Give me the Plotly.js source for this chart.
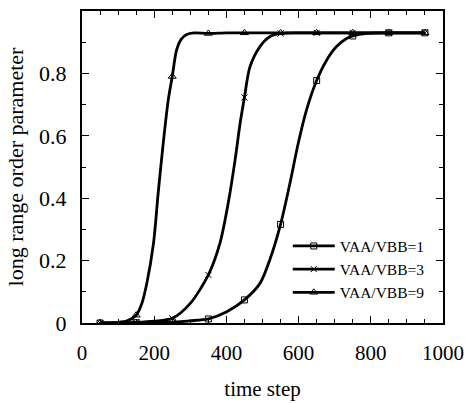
<!DOCTYPE html>
<html>
<head>
<meta charset="utf-8">
<script src="https://cdn.plot.ly/plotly-3.0.1.min.js"></script>
<style>html,body{margin:0;padding:0;background:#fff;}#chart{width:466px;height:403px;}</style>
</head>
<body>
<div id="chart"></div>
<script>
// Marker sample positions (time step)
var markerT = [50, 150, 250, 350, 450, 550, 650, 750, 850, 950];
// Marker values
var markerV1 = [0, 0.001, 0.003, 0.013, 0.074, 0.316, 0.777, 0.92, 0.93, 0.93];
var markerV3 = [0, 0.002, 0.015, 0.154, 0.723, 0.928, 0.93, 0.93, 0.93, 0.93];
var markerV9 = [0, 0.025, 0.79, 0.928, 0.93, 0.93, 0.93, 0.93, 0.93, 0.93];

// Intermediate curve points
var curveT1 = [100, 200, 300, 401, 493, 521, 576, 599, 622, 678, 705, 733, 790, 900];
var curveV1 = [0, 0.002, 0.007, 0.036, 0.127, 0.205, 0.448, 0.576, 0.683, 0.843, 0.886, 0.912, 0.928, 0.93];
var curveT3 = [100, 200, 300, 382, 405, 424, 438, 465, 493, 521, 600, 700, 800, 900];
var curveV3 = [0, 0.006, 0.063, 0.255, 0.384, 0.522, 0.64, 0.82, 0.886, 0.918, 0.93, 0.93, 0.93, 0.93];
var curveT9 = [100, 125, 165, 180, 198, 211, 225, 239, 262, 275, 290, 310, 400, 500, 600, 700, 800, 900];
var curveV9 = [0.002, 0.007, 0.06, 0.13, 0.255, 0.416, 0.576, 0.715, 0.875, 0.91, 0.925, 0.93, 0.93, 0.93, 0.93, 0.93, 0.93, 0.93];

var seriesNames = ['VAA/VBB=1', 'VAA/VBB=3', 'VAA/VBB=9'];
var symbols = ['square-open', 'x-thin-open', 'triangle-up-open'];
var sizes = [6, 6, 7];

function build(name, sym, size, mT, mV, cT, cV) {
  var pts = [];
  for (var i = 0; i < mT.length; i++) pts.push({t: mT[i], v: mV[i], m: true});
  for (var j = 0; j < cT.length; j++) pts.push({t: cT[j], v: cV[j], m: false});
  pts.sort(function (a, b) { return a.t - b.t; });
  var cols = pts.map(function (p) { return p.m ? '#000' : 'rgba(0,0,0,0)'; });
  return {
    type: 'scatter',
    mode: 'lines+markers',
    name: name,
    x: pts.map(function (p) { return p.t; }),
    y: pts.map(function (p) { return p.v; }),
    line: {color: '#000', width: 2.8, shape: 'spline', smoothing: 0.8},
    marker: {symbol: sym, size: size, color: cols, line: {width: 1, color: cols}}
  };
}

var data = [
  build(seriesNames[0], symbols[0], sizes[0], markerT, markerV1, curveT1, curveV1),
  build(seriesNames[1], symbols[1], sizes[1], markerT, markerV3, curveT3, curveV3),
  build(seriesNames[2], symbols[2], sizes[2], markerT, markerV9, curveT9, curveV9)
];

var font = '"Liberation Serif", "Times New Roman", Times, serif';
var layout = {
  width: 466, height: 403,
  margin: {l: 82, r: 23, t: 11, b: 80},
  paper_bgcolor: '#fff', plot_bgcolor: '#fff',
  font: {family: font, color: '#000', size: 21},
  showlegend: true,
  legend: {
    x: 0.57, y: 0.3, xanchor: 'left', yanchor: 'top',
    bgcolor: 'rgba(0,0,0,0)', font: {family: font, size: 15.5, color: '#000'},
    itemwidth: 42, tracegroupgap: 0
  },
  xaxis: {
    range: [0, 1000], dtick: 200, tick0: 0,
    showgrid: false, zeroline: false,
    showline: true, linecolor: '#000', linewidth: 2, mirror: 'allticks',
    ticks: 'inside', ticklen: 7, tickwidth: 1, tickcolor: '#000',
    minor: {dtick: 50, ticklen: 4, tickwidth: 1, tickcolor: '#000', ticks: 'inside'},
    ticklabelstandoff: 10,
    tickfont: {family: font, size: 21, color: '#000'},
    title: {text: 'time step', font: {family: font, size: 21, color: '#000'}, standoff: 17}
  },
  yaxis: {
    range: [0, 1], dtick: 0.2, tick0: 0,
    showgrid: false, zeroline: false,
    showline: true, linecolor: '#000', linewidth: 2, mirror: 'allticks',
    ticks: 'inside', ticklen: 7, tickwidth: 1, tickcolor: '#000',
    minor: {dtick: 0.1, ticklen: 4, tickwidth: 1, tickcolor: '#000', ticks: 'inside'},
    ticklabelstandoff: 9,
    tickfont: {family: font, size: 22, color: '#000'},
    title: {text: 'long range order parameter', font: {family: font, size: 22, color: '#000'}, standoff: 9}
  }
};

Plotly.newPlot('chart', data, layout, {displayModeBar: false, staticPlot: true});
</script>
</body>
</html>
